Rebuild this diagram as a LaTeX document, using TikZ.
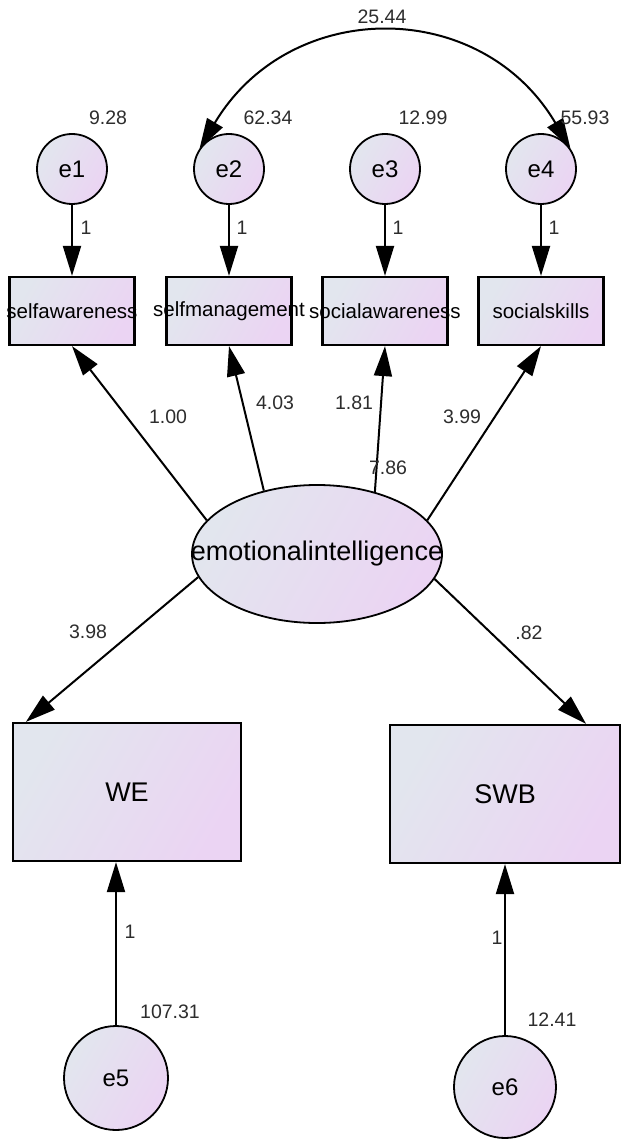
\documentclass[tikz,border=0pt]{standalone}
\usepackage{fontspec}
\setmainfont{Liberation Sans}
\usetikzlibrary{arrows.meta,shapes.geometric}
\definecolor{semleft}{RGB}{226,230,238}
\definecolor{semright}{RGB}{235,212,243}
\definecolor{esttext}{RGB}{45,45,45}

\begin{document}
\begin{tikzpicture}[x=1pt, y=-1pt, >={Triangle[length=30pt,width=18pt]},
  latent/.style={ellipse, draw, line width=1.8pt, left color=semleft, right color=semright, shading angle=60, inner sep=0pt},
  err/.style={latent, minimum width=70pt, minimum height=70pt, font=\fontsize{24}{24}\selectfont},
  obs/.style={rectangle, draw, line width=2.2pt, left color=semleft, right color=semright, shading angle=60, inner sep=0pt,
    minimum width=125pt, minimum height=68pt, font=\fontsize{20.5}{20.5}\selectfont},
  outc/.style={obs, minimum height=138pt, font=\fontsize{27}{27}\selectfont},
  path/.style={->, line width=2pt},
  est/.style={font=\fontsize{19.5}{19.5}\selectfont, text=esttext}]
  \useasboundingbox (0,0) rectangle (621,1139);

  % Error terms
  \node[err] (e1) at (72,169) {e1};
  \node[err] (e2) at (229,169) {e2};
  \node[err] (e3) at (385,169) {e3};
  \node[err] (e4) at (541,169) {e4};

  % Indicators
  \node[obs] (selfaw) at (72,311) {\makebox[0pt]{selfawareness}};
  \node[obs] (selfman) at (229,311) {\makebox[0pt]{selfmanagement}};
  \node[obs] (socaw) at (385,311) {\makebox[0pt]{socialawareness}};
  \node[obs] (socsk) at (541,311) {\makebox[0pt]{socialskills}};

  % Latent factor
  \node[latent, minimum width=250pt, minimum height=138pt, font=\fontsize{27}{27}\selectfont]
    (ei) at (317,554) {\makebox[0pt]{emotionalintelligence}};

  % Outcomes and their errors
  \node[outc, minimum width=228pt] (WE) at (127,792) {WE};
  \node[outc, minimum width=230pt] (SWB) at (505,794) {SWB};
  \node[err, minimum width=104pt, minimum height=104pt] (e5) at (116,1078) {e5};
  \node[err, minimum width=102pt, minimum height=102pt] (e6) at (505,1087) {e6};

  % Paths
  \draw[path] (e1) -- (selfaw);
  \draw[path] (e2) -- (selfman);
  \draw[path] (e3) -- (socaw);
  \draw[path] (e4) -- (socsk);
  \draw[path] (ei.163) -- (selfaw.south);
  \draw[path] (ei.130) -- (selfman.south);
  \draw[path] (ei.47) -- (socaw.south);
  \draw[path] (ei.17) -- (socsk.south);
  \draw[path] (ei.191) -- ([xshift=14pt]WE.north west);
  \draw[path] (ei.348) -- ([xshift=-35pt]SWB.north east);
  \draw[path] (e5) -- (e5 |- WE.south);
  \draw[path] (e6) -- (SWB);

  % Covariance
  \draw[<->, line width=2pt] (e2.145) .. controls (290,-3) and (481,-3) .. (e4.35);

  % Estimates
  \node[est] (cov24) at (382,17) {25.44};
  \node[est] (var1) at (108,118) {9.28};
  \node[est] (var2) at (268,118) {62.34};
  \node[est] (var3) at (423,118) {12.99};
  \node[est] (var4) at (585,118) {55.93};
  \node[est] (fix1) at (86,228) {1};
  \node[est] (fix2) at (242,228) {1};
  \node[est] (fix3) at (398,228) {1};
  \node[est] (fix4) at (554,228) {1};
  \node[est] (load1) at (168,417) {1.00};
  \node[est] (load2) at (275,403) {4.03};
  \node[est] (load3) at (354,403) {1.81};
  \node[est] (load4) at (462,417) {3.99};
  \node[est] (varei) at (388,468) {7.86};
  \node[est] (regwe) at (88,632) {3.98};
  \node[est] (regswb) at (529,633) {.82};
  \node[est] (fix5) at (130,932) {1};
  \node[est] (fix6) at (497,938) {1};
  \node[est] (var5) at (170,1012) {107.31};
  \node[est] (var6) at (552,1020) {12.41};
\end{tikzpicture}
\end{document}
